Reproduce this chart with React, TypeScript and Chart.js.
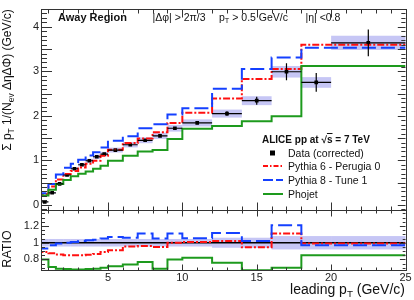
import React, { useEffect, useRef } from "react";
import { Chart, registerables } from "chart.js";

Chart.register(...registerables);

// ---- data ----
const binEdges = [0.5, 1, 1.5, 2, 2.5, 3, 3.5, 4, 4.5, 5, 6, 7, 8, 9, 10, 12, 14, 16, 18, 20, 25];
const dataVals = [0.065, 0.27, 0.47, 0.67, 0.81, 0.9, 0.99, 1.08, 1.14, 1.23, 1.35, 1.45, 1.55, 1.72, 1.84, 2.05, 2.34, 2.99, 2.75, 3.64];
const dataStat = [0.005, 0.01, 0.01, 0.01, 0.01, 0.01, 0.01, 0.015, 0.015, 0.015, 0.02, 0.02, 0.025, 0.03, 0.03, 0.05, 0.09, 0.19, 0.21, 0.3];
const dataSys = [0.004, 0.012, 0.02, 0.03, 0.035, 0.04, 0.045, 0.05, 0.05, 0.055, 0.06, 0.065, 0.07, 0.075, 0.08, 0.09, 0.1, 0.13, 0.12, 0.16];
const pythia6 = [0.054, 0.24, 0.41, 0.57, 0.69, 0.76, 0.84, 0.92, 0.99, 1.1, 1.24, 1.39, 1.49, 1.63, 1.84, 2.07, 2.39, 2.83, 3.05, 3.6];
const pythia8 = [0.066, 0.26, 0.47, 0.68, 0.83, 0.92, 1.01, 1.11, 1.18, 1.29, 1.44, 1.54, 1.72, 1.81, 2.03, 2.17, 2.61, 3.05, 3.31, 3.53];
const phojet = [0.07, 0.21, 0.34, 0.47, 0.56, 0.64, 0.7, 0.75, 0.81, 0.88, 0.99, 1.1, 1.2, 1.23, 1.48, 1.71, 1.77, 1.88, 1.99, 3.12];
const ratioP6 = [0.835, 0.89, 0.875, 0.86, 0.85, 0.85, 0.85, 0.855, 0.865, 0.89, 0.91, 0.955, 0.96, 0.95, 1.0, 1.01, 1.02, 0.945, 1.11, 0.99];
const ratioP8 = [1.01, 0.93, 0.97, 0.99, 1.0, 1.01, 1.02, 1.03, 1.035, 1.05, 1.07, 1.06, 1.11, 1.05, 1.11, 1.055, 1.115, 1.02, 1.21, 0.97];
const ratioPhojet = [1.11, 0.8, 0.71, 0.69, 0.685, 0.68, 0.68, 0.685, 0.69, 0.7, 0.72, 0.74, 0.77, 0.69, 0.8, 0.82, 0.76, 0.67, 0.7, 0.85];
const ratioBand = [0.045, 0.045, 0.045, 0.045, 0.045, 0.045, 0.045, 0.045, 0.045, 0.045, 0.045, 0.045, 0.045, 0.045, 0.045, 0.06, 0.06, 0.08, 0.08, 0.08];
const ratioRef = 1;

const xTickLabels = [5, 10, 15, 20, 25];
const yTopTicks = [0, 0.5, 1, 1.5, 2, 2.5, 3, 3.5, 4];
const yRatioTicks = [0.8, 1, 1.2];

// ---- styles ----
const RED = "#ff1010";
const BLUE = "#1440ff";
const GREEN = "#1d9a1d";
const BAND = "rgba(120,120,230,0.42)";
const FONT = '"Liberation Sans", Arial, Helvetica, sans-serif';

const stepPoints = (vals: number[]) =>
  binEdges.map((e, i) => ({ x: e, y: vals[Math.min(i, vals.length - 1)] }));
const centers = binEdges.slice(0, -1).map((e, i) => (e + binEdges[i + 1]) / 2);

const decor = {
  id: "decor",
  beforeDatasetsDraw(chart: any) {
    const { ctx } = chart;
    const x = chart.scales.x, y = chart.scales.y, yr = chart.scales.yr;
    ctx.save();
    ctx.fillStyle = BAND;
    for (let i = 0; i < dataVals.length; i++) {
      const x0 = x.getPixelForValue(binEdges[i]);
      const x1 = x.getPixelForValue(binEdges[i + 1]);
      const a = y.getPixelForValue(dataVals[i] + dataSys[i]);
      const b = y.getPixelForValue(dataVals[i] - dataSys[i]);
      ctx.fillRect(x0, a, x1 - x0, b - a);
      const ra = yr.getPixelForValue(ratioRef + ratioBand[i]);
      const rb = yr.getPixelForValue(ratioRef - ratioBand[i]);
      ctx.fillRect(x0, ra, x1 - x0, rb - ra);
    }
    ctx.restore();
  },
  afterDatasetsDraw(chart: any) {
    const { ctx } = chart;
    const x = chart.scales.x, y = chart.scales.y;
    ctx.save();
    ctx.strokeStyle = "#000";
    ctx.lineWidth = 1.2;
    for (let i = 0; i < dataVals.length; i++) {
      const x0 = x.getPixelForValue(binEdges[i]);
      const x1 = x.getPixelForValue(binEdges[i + 1]);
      const xc = x.getPixelForValue(centers[i]);
      const yc = y.getPixelForValue(dataVals[i]);
      ctx.beginPath();
      ctx.moveTo(x0, yc);
      ctx.lineTo(x1, yc);
      ctx.moveTo(xc, y.getPixelForValue(dataVals[i] + dataStat[i]));
      ctx.lineTo(xc, y.getPixelForValue(dataVals[i] - dataStat[i]));
      ctx.stroke();
    }
    ctx.restore();
  },
  afterDraw(chart: any) {
    const { ctx, chartArea } = chart;
    const x = chart.scales.x, y = chart.scales.y, yr = chart.scales.yr;
    const L = chartArea.left, R = chartArea.right;
    ctx.save();
    ctx.strokeStyle = "#333";
    ctx.lineWidth = 1;
    const line = (x1: number, y1: number, x2: number, y2: number) => {
      ctx.beginPath();
      ctx.moveTo(x1, y1);
      ctx.lineTo(x2, y2);
      ctx.stroke();
    };
    const panels = [
      { s: y, min: -0.1, max: 4.4, minor: 0.1, major: 0.5, xl: 4, xL: 8, yl: 6, yL: 11 },
      { s: yr, min: 0.7, max: 1.35, minor: 0.05, major: 0.2, xl: 3, xL: 6, yl: 4, yL: 8 },
    ];
    for (const p of panels) {
      const T = Math.round(p.s.top) + 0.5, B = Math.round(p.s.bottom) + 0.5;
      ctx.strokeRect(Math.round(L) + 0.5, T, Math.round(R) - Math.round(L), B - T);
      for (let v = 1; v <= 25; v++) {
        const px = Math.round(x.getPixelForValue(v)) + 0.5;
        const len = v % 5 === 0 ? p.xL : p.xl;
        line(px, T, px, T + len);
        line(px, B, px, B - len);
      }
      const n0 = Math.ceil(p.min / p.minor - 1e-6), n1 = Math.floor(p.max / p.minor + 1e-6);
      for (let k = n0; k <= n1; k++) {
        const v = k * p.minor;
        const isMajor = Math.abs(v / p.major - Math.round(v / p.major)) < 1e-6;
        const py = Math.round(p.s.getPixelForValue(v)) + 0.5;
        if (py <= T || py >= B) continue;
        const len = isMajor ? p.yL : p.yl;
        line(L, py, L + len, py);
        line(R, py, R - len * 0.7, py);
      }
    }
    ctx.restore();
  },
};

const tickFont = { family: FONT, size: 11 };

export default function App() {
  const ref = useRef<HTMLCanvasElement>(null);
  useEffect(() => {
    const lineDs = (data: any, color: string, dash: number[], axis: string) => ({
      type: "line" as const,
      data,
      yAxisID: axis,
      borderColor: color,
      borderWidth: 2,
      borderDash: dash,
      stepped: "after" as const,
      pointRadius: 0,
      fill: false,
    });
    const chart = new Chart(ref.current!, {
      type: "line",
      data: {
        datasets: [
          lineDs(stepPoints(phojet), GREEN, [], "y"),
          lineDs(stepPoints(pythia8), BLUE, [14, 5], "y"),
          lineDs(stepPoints(pythia6), RED, [7, 2, 2, 2], "y"),
          {
            type: "scatter" as const,
            data: centers.map((c, i) => ({ x: c, y: dataVals[i] })),
            yAxisID: "y",
            pointStyle: "rect",
            pointRadius: 2.6,
            backgroundColor: "#000",
            borderColor: "#000",
            borderWidth: 0,
          },
          lineDs(stepPoints(ratioPhojet), GREEN, [], "yr"),
          lineDs(stepPoints(ratioP8), BLUE, [14, 5], "yr"),
          lineDs(stepPoints(ratioP6), RED, [7, 2, 2, 2], "yr"),
          {
            ...lineDs([{ x: binEdges[0], y: ratioRef }, { x: binEdges[binEdges.length - 1], y: ratioRef }], "#000", [], "yr"),
            borderWidth: 1.5,
            stepped: false,
          },
        ] as any,
      },
      options: {
        responsive: false,
        animation: false,
        devicePixelRatio: 1,
        layout: { padding: { left: 0, top: 4, right: 8.5, bottom: 0 } },
        plugins: { legend: { display: false }, tooltip: { enabled: false }, title: { display: false } },
        scales: {
          x: {
            type: "linear",
            min: 0.5,
            max: 25,
            position: "bottom",
            grid: { display: false, drawTicks: false },
            border: { display: false },
            ticks: { font: tickFont, color: "#222", padding: 1, maxRotation: 0, autoSkip: false, callback: (v: any) => String(v) },
            afterBuildTicks: (s: any) => { s.ticks = xTickLabels.map((v) => ({ value: v })); },
            afterFit: (s: any) => { s.height = 29.5; },
          },
          yr: {
            type: "linear",
            position: "left",
            stack: "panels",
            stackWeight: 61.5,
            min: 0.668,
            max: 1.39,
            grid: { display: false, drawTicks: false },
            border: { display: false },
            ticks: { font: tickFont, color: "#222", padding: 2, callback: (v: any) => String(v) },
            afterBuildTicks: (s: any) => { s.ticks = yRatioTicks.map((v) => ({ value: v })); },
            afterFit: (s: any) => { s.width = 41; },
          },
          y: {
            type: "linear",
            position: "left",
            stack: "panels",
            stackWeight: 205.3,
            min: -0.12,
            max: 4.41,
            grid: { display: false, drawTicks: false },
            border: { display: false },
            ticks: { font: tickFont, color: "#222", padding: 2, callback: (v: any) => String(v) },
            afterBuildTicks: (s: any) => { s.ticks = yTopTicks.map((v) => ({ value: v })); },
            afterFit: (s: any) => { s.width = 41; },
          },
        } as any,
      },
      plugins: [decor],
    } as any);
    return () => chart.destroy();
  }, []);

  const txt = (x: number, y: number, size: number, content: React.ReactNode, extra: React.CSSProperties = {}) => (
    <div
      style={{
        position: "absolute",
        left: x,
        top: y,
        transform: "translateY(-50%)",
        fontSize: size,
        lineHeight: 1,
        whiteSpace: "nowrap",
        color: "#111",
        ...extra,
      }}
    >
      {content}
    </div>
  );
  const sub = (s: string) => <sub style={{ fontSize: "0.7em", verticalAlign: "-0.3em", lineHeight: 0 }}>{s}</sub>;

  const legendRows = [
    { y: 153.3, label: "Data (corrected)", kind: "marker", color: "#000", dash: "" },
    { y: 166, label: "Pythia 6 -  Perugia 0", kind: "line", color: RED, dash: "5 2 1.5 2" },
    { y: 180, label: "Pythia 8 -  Tune 1", kind: "line", color: BLUE, dash: "10 3" },
    { y: 194.3, label: "Phojet", kind: "line", color: GREEN, dash: "" },
  ];

  return (
    <div style={{ position: "absolute", left: 0, top: 0, width: 414, height: 300, background: "#fff", fontFamily: FONT, overflow: "hidden" }}>
      <canvas ref={ref} width={414} height={300} style={{ position: "absolute", left: 0, top: 0 }} />
      {txt(58, 17, 11, "Away Region", { fontWeight: "bold" })}
      {txt(152.5, 17, 10.5, "|Δφ| > 2π/3")}
      {txt(219, 17, 10.5, <span>p{sub("T")} &gt; 0.5 GeV/c</span>)}
      {txt(305.5, 17, 10.5, "|η| <0.8")}
      {txt(262, 139.5, 10, <span>ALICE pp at  √<span style={{ textDecoration: "overline" }}>s</span> = 7 TeV</span>, { fontWeight: "bold" })}
      {legendRows.map((r) => (
        <React.Fragment key={r.label}>
          {txt(288, r.y, 10.5, r.label)}
          <svg style={{ position: "absolute", left: 262, top: r.y - 4 }} width={22} height={8}>
            {r.kind === "marker" ? (
              <rect x={8} y={1.5} width={5} height={5} fill="#000" />
            ) : (
              <line x1={1} y1={4} x2={21} y2={4} stroke={r.color} strokeWidth={2} strokeDasharray={r.dash} />
            )}
          </svg>
        </React.Fragment>
      ))}
      <div
        style={{
          position: "absolute",
          left: 7,
          top: 80,
          transform: "translate(-50%,-50%) rotate(-90deg)",
          fontSize: 12,
          lineHeight: 1,
          whiteSpace: "nowrap",
          color: "#111",
        }}
      >
        Σ p{sub("T")} 1/(N{sub("ev")} ΔηΔΦ) (GeV/c)
      </div>
      <div
        style={{
          position: "absolute",
          left: 7,
          top: 248.5,
          transform: "translate(-50%,-50%) rotate(-90deg)",
          fontSize: 12.5,
          lineHeight: 1,
          whiteSpace: "nowrap",
          color: "#111",
        }}
      >
        RATIO
      </div>
      <div style={{ position: "absolute", right: 9, top: 289, transform: "translateY(-50%)", fontSize: 14, lineHeight: 1, whiteSpace: "nowrap", color: "#111" }}>
        leading p{sub("T")} (GeV/c)
      </div>
    </div>
  );
}
